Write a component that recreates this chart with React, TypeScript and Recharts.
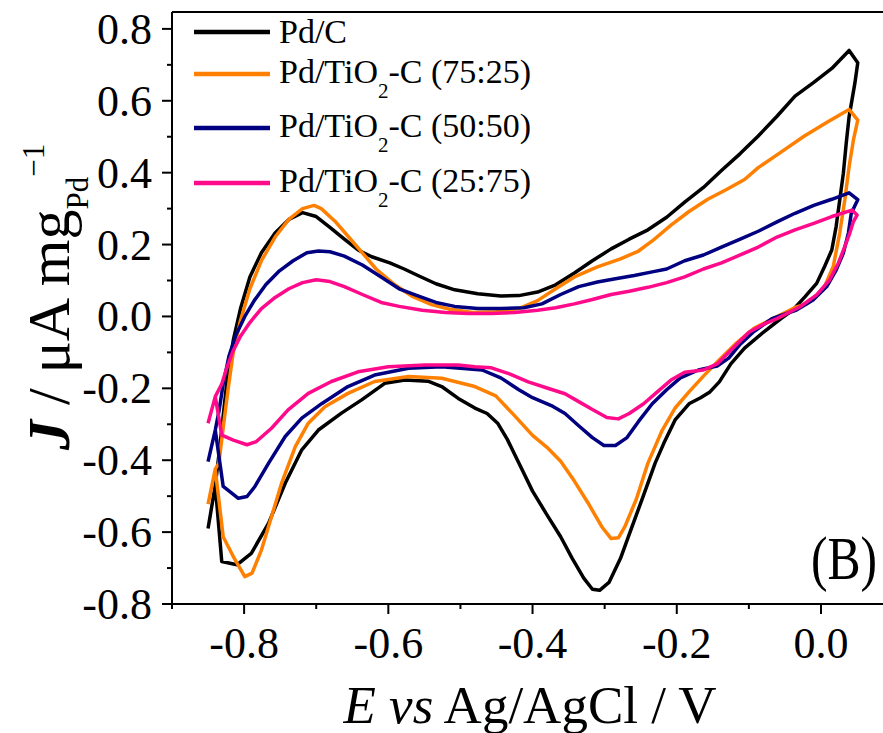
import React from "react";
import { LineChart, Line, XAxis, YAxis, Legend, ReferenceLine } from "recharts";

type Pt = [number, number];

// E (V vs Ag/AgCl), J (uA mg_Pd^-1); each loop: start, forward scan, reverse scan
const pdC: Pt[] = [
  [-0.85, -0.59], [-0.84, -0.47],
  [-0.835, -0.386], [-0.829, -0.276], [-0.823, -0.166], [-0.815, -0.066], [-0.805, 0.022], [-0.792, 0.11],
  [-0.776, 0.177], [-0.757, 0.232], [-0.738, 0.27], [-0.719, 0.289], [-0.7, 0.278], [-0.681, 0.248],
  [-0.661, 0.215], [-0.642, 0.185], [-0.623, 0.166], [-0.598, 0.149], [-0.578, 0.132], [-0.559, 0.114],
  [-0.534, 0.091], [-0.508, 0.074], [-0.476, 0.063], [-0.444, 0.057], [-0.419, 0.058], [-0.393, 0.068],
  [-0.368, 0.088], [-0.342, 0.121], [-0.317, 0.155], [-0.291, 0.188], [-0.266, 0.215], [-0.24, 0.241],
  [-0.214, 0.276], [-0.189, 0.318], [-0.163, 0.359], [-0.138, 0.406], [-0.112, 0.453], [-0.087, 0.502],
  [-0.061, 0.557], [-0.036, 0.613], [-0.01, 0.651], [0.015, 0.69], [0.039, 0.74], [0.051, 0.706],
  [0.047, 0.649], [0.039, 0.556], [0.035, 0.482], [0.031, 0.398], [0.026, 0.324], [0.021, 0.25],
  [0.015, 0.185], [0.005, 0.139], [-0.006, 0.092], [-0.022, 0.055], [-0.039, 0.018], [-0.055, -0.005],
  [-0.08, -0.044], [-0.106, -0.088], [-0.125, -0.132], [-0.141, -0.182], [-0.154, -0.21], [-0.167, -0.226],
  [-0.183, -0.243], [-0.202, -0.287], [-0.218, -0.353], [-0.23, -0.408], [-0.246, -0.497], [-0.262, -0.585],
  [-0.278, -0.673], [-0.294, -0.74], [-0.307, -0.762], [-0.317, -0.759], [-0.329, -0.728], [-0.345, -0.673],
  [-0.361, -0.613], [-0.38, -0.552], [-0.4, -0.486], [-0.419, -0.408], [-0.435, -0.342], [-0.448, -0.298],
  [-0.463, -0.27], [-0.48, -0.255], [-0.503, -0.228], [-0.526, -0.195], [-0.545, -0.18], [-0.577, -0.177],
  [-0.605, -0.186], [-0.637, -0.232], [-0.665, -0.269], [-0.697, -0.316], [-0.72, -0.371], [-0.743, -0.464],
  [-0.766, -0.575], [-0.79, -0.659], [-0.81, -0.691], [-0.831, -0.682], [-0.84, -0.47],
];

const pdTi7525: Pt[] = [
  [-0.85, -0.522], [-0.84, -0.425],
  [-0.835, -0.408], [-0.829, -0.309], [-0.822, -0.199], [-0.815, -0.099], [-0.805, -0.011], [-0.792, 0.077],
  [-0.776, 0.155], [-0.757, 0.221], [-0.738, 0.27], [-0.719, 0.3], [-0.703, 0.309], [-0.693, 0.3],
  [-0.674, 0.265], [-0.655, 0.221], [-0.636, 0.177], [-0.617, 0.132], [-0.591, 0.088], [-0.566, 0.055],
  [-0.54, 0.033], [-0.515, 0.02], [-0.483, 0.011], [-0.451, 0.013], [-0.419, 0.022], [-0.393, 0.044],
  [-0.368, 0.077], [-0.342, 0.11], [-0.31, 0.138], [-0.278, 0.16], [-0.253, 0.182], [-0.234, 0.21],
  [-0.208, 0.254], [-0.183, 0.292], [-0.157, 0.326], [-0.131, 0.353], [-0.106, 0.381], [-0.087, 0.414],
  [-0.055, 0.458], [-0.023, 0.502], [0.009, 0.541], [0.039, 0.576], [0.051, 0.546],
  [0.045, 0.491], [0.039, 0.417], [0.033, 0.324], [0.026, 0.232], [0.017, 0.139], [0.003, 0.074],
  [-0.02, 0.035], [-0.036, 0.025], [-0.061, 0.0], [-0.093, -0.033], [-0.119, -0.077], [-0.144, -0.127],
  [-0.163, -0.166], [-0.183, -0.21], [-0.202, -0.254], [-0.221, -0.32], [-0.24, -0.408], [-0.256, -0.508],
  [-0.272, -0.585], [-0.281, -0.616], [-0.291, -0.618], [-0.304, -0.585], [-0.323, -0.519], [-0.342, -0.458],
  [-0.361, -0.403], [-0.38, -0.364], [-0.4, -0.331], [-0.425, -0.276], [-0.451, -0.221], [-0.48, -0.195],
  [-0.526, -0.172], [-0.572, -0.167], [-0.619, -0.181], [-0.656, -0.214], [-0.688, -0.251], [-0.711, -0.297],
  [-0.729, -0.362], [-0.748, -0.464], [-0.762, -0.557], [-0.776, -0.65], [-0.789, -0.714], [-0.799, -0.724],
  [-0.815, -0.668], [-0.829, -0.613], [-0.84, -0.425],
];

const pdTi5050: Pt[] = [
  [-0.85, -0.404], [-0.84, -0.316],
  [-0.835, -0.265], [-0.829, -0.188], [-0.821, -0.11], [-0.811, -0.05], [-0.799, 0.0], [-0.786, 0.044],
  [-0.77, 0.088], [-0.751, 0.127], [-0.732, 0.155], [-0.713, 0.177], [-0.697, 0.182], [-0.681, 0.18],
  [-0.661, 0.168], [-0.636, 0.143], [-0.61, 0.11], [-0.585, 0.077], [-0.559, 0.057], [-0.534, 0.039],
  [-0.508, 0.028], [-0.476, 0.022], [-0.444, 0.022], [-0.412, 0.024], [-0.387, 0.035], [-0.361, 0.061],
  [-0.336, 0.083], [-0.31, 0.096], [-0.285, 0.105], [-0.259, 0.114], [-0.234, 0.124], [-0.214, 0.132],
  [-0.189, 0.155], [-0.163, 0.171], [-0.138, 0.193], [-0.112, 0.215], [-0.087, 0.237], [-0.061, 0.263],
  [-0.036, 0.287], [-0.01, 0.309], [0.015, 0.326], [0.039, 0.344], [0.051, 0.325],
  [0.042, 0.287], [0.038, 0.232], [0.031, 0.176], [0.021, 0.129], [0.008, 0.083], [-0.011, 0.046],
  [-0.034, 0.018], [-0.068, -0.006], [-0.093, -0.042], [-0.112, -0.077], [-0.128, -0.116], [-0.144, -0.138],
  [-0.17, -0.149], [-0.195, -0.171], [-0.214, -0.204], [-0.234, -0.243], [-0.253, -0.292], [-0.269, -0.337],
  [-0.285, -0.359], [-0.301, -0.359], [-0.317, -0.337], [-0.336, -0.304], [-0.355, -0.27], [-0.374, -0.248],
  [-0.4, -0.226], [-0.419, -0.204], [-0.444, -0.171], [-0.47, -0.149], [-0.526, -0.14], [-0.572, -0.144],
  [-0.619, -0.163], [-0.656, -0.195], [-0.692, -0.242], [-0.72, -0.283], [-0.743, -0.334], [-0.766, -0.408],
  [-0.785, -0.473], [-0.796, -0.501], [-0.808, -0.506], [-0.829, -0.473], [-0.84, -0.316],
];

const pdTi2575: Pt[] = [
  [-0.85, -0.297], [-0.84, -0.223],
  [-0.831, -0.188], [-0.824, -0.143], [-0.816, -0.099], [-0.805, -0.055], [-0.792, -0.017], [-0.776, 0.022],
  [-0.757, 0.053], [-0.738, 0.077], [-0.719, 0.094], [-0.7, 0.102], [-0.681, 0.097], [-0.661, 0.083],
  [-0.636, 0.061], [-0.61, 0.039], [-0.585, 0.028], [-0.553, 0.017], [-0.521, 0.011], [-0.489, 0.008],
  [-0.457, 0.008], [-0.425, 0.011], [-0.393, 0.017], [-0.368, 0.024], [-0.342, 0.035], [-0.317, 0.047],
  [-0.291, 0.061], [-0.266, 0.07], [-0.24, 0.081], [-0.214, 0.094], [-0.189, 0.11], [-0.163, 0.132],
  [-0.138, 0.149], [-0.112, 0.171], [-0.087, 0.193], [-0.061, 0.221], [-0.036, 0.241], [-0.01, 0.259],
  [0.015, 0.278], [0.043, 0.296], [0.05, 0.282],
  [0.045, 0.264], [0.04, 0.232], [0.033, 0.194], [0.024, 0.148], [0.012, 0.102], [-0.006, 0.06],
  [-0.029, 0.027], [-0.061, -0.006], [-0.08, -0.022], [-0.1, -0.044], [-0.122, -0.088], [-0.144, -0.132],
  [-0.163, -0.149], [-0.189, -0.155], [-0.208, -0.177], [-0.227, -0.21], [-0.246, -0.243], [-0.266, -0.27],
  [-0.281, -0.285], [-0.297, -0.281], [-0.317, -0.259], [-0.336, -0.237], [-0.355, -0.215], [-0.38, -0.199],
  [-0.406, -0.182], [-0.432, -0.16], [-0.457, -0.143], [-0.48, -0.14], [-0.503, -0.135], [-0.549, -0.135],
  [-0.6, -0.14], [-0.642, -0.154], [-0.679, -0.181], [-0.711, -0.214], [-0.739, -0.26], [-0.762, -0.311],
  [-0.783, -0.348], [-0.796, -0.357], [-0.815, -0.344], [-0.831, -0.33], [-0.84, -0.223],
];

const SERIES_NAMES = ["Pd/C", "Pd/TiO2-C (75:25)", "Pd/TiO2-C (50:50)", "Pd/TiO2-C (25:75)"];
const SERIES_COLORS = ["#000000", "#ff8000", "#000080", "#ff0a8a"];
const SERIES_DATA = [pdC, pdTi7525, pdTi5050, pdTi2575];

const X_TICKS = [-0.9, -0.8, -0.7, -0.6, -0.5, -0.4, -0.3, -0.2, -0.1, 0.0];
const Y_TICKS = [-0.8, -0.7, -0.6, -0.5, -0.4, -0.3, -0.2, -0.1, 0.0, 0.1, 0.2, 0.3, 0.4, 0.5, 0.6, 0.7, 0.8];
const X_DOMAIN: [number, number] = [-0.9, 0.086];
const Y_DOMAIN: [number, number] = [-0.8, 0.847];

const SERIF = '"Liberation Serif", "Times New Roman", serif';
const serif = { fontFamily: SERIF };
const W = 883;
const H = 733;
const PLOT_LEFT = 172;
const PLOT_BOTTOM = 604;
const LEGEND_ROW_Y = [32, 74, 128, 183];

const isMajor = (v: number) => Math.abs(Math.round(v * 10)) % 2 === 0;

const YTick = (props: any) => {
  const { y, payload } = props;
  const v: number = payload.value;
  const major = isMajor(v);
  return (
    <g>
      <line x1={PLOT_LEFT - (major ? 10 : 5)} x2={PLOT_LEFT} y1={y} y2={y} stroke="#000" strokeWidth={2} />
      {major && (
        <text x={PLOT_LEFT - 20} y={y + 15} textAnchor="end" fontSize={44} style={serif} fill="#000">
          {v.toFixed(1)}
        </text>
      )}
    </g>
  );
};

const XTick = (props: any) => {
  const { x, payload } = props;
  const v: number = payload.value;
  const major = isMajor(v);
  return (
    <g>
      <line x1={x} x2={x} y1={PLOT_BOTTOM} y2={PLOT_BOTTOM + (major ? 10 : 5)} stroke="#000" strokeWidth={2} />
      {major && (
        <text x={x} y={658} textAnchor="middle" fontSize={44} style={serif} fill="#000">
          {v.toFixed(1)}
        </text>
      )}
    </g>
  );
};

// axis title plus the "(B)" panel tag in the lower-right corner of the plot
const XTitle = () => (
  <g fill="#000">
    <text x={530} y={723} textAnchor="middle" fontSize={53} style={serif}>
      <tspan fontStyle="italic">E vs</tspan>
      <tspan> Ag/AgCl / V</tspan>
    </text>
    <text transform="translate(877, 579) scale(0.8, 1)" textAnchor="end" fontSize={62} style={serif}>
      (B)
    </text>
  </g>
);

const YTitle = () => (
  <text x={69} y={450} transform="rotate(-90, 69, 450)" style={serif} fontSize={60} fill="#000">
    <tspan fontStyle="italic" fontWeight="bold">J</tspan>
    <tspan> / μA mg</tspan>
    <tspan fontSize={31} dy={19}>Pd</tspan>
    <tspan fontSize={31} dy={-44}>−1</tspan>
  </text>
);

const legendLabel = (name: string) => {
  const i = name.indexOf("TiO2");
  if (i < 0) return name;
  return (
    <>
      {name.slice(0, i + 3)}
      <span style={{ fontSize: 21, position: "relative", top: 15 }}>2</span>
      {name.slice(i + 4)}
    </>
  );
};

const LegendBox = () => (
  <div style={{ position: "relative", width: W, height: 0, fontFamily: SERIF, color: "#000" }}>
    {SERIES_NAMES.map((name, i) => (
      <div
        key={name}
        style={{
          position: "absolute",
          left: 194,
          top: LEGEND_ROW_Y[i] - 20,
          height: 40,
          display: "flex",
          alignItems: "center",
          whiteSpace: "nowrap",
        }}
      >
        <svg width={76} height={8} style={{ display: "block" }}>
          <line x1={0} x2={76} y1={4} y2={4} stroke={SERIES_COLORS[i]} strokeWidth={4.5} />
        </svg>
        <span style={{ marginLeft: 9, fontSize: 34, lineHeight: "40px" }}>{legendLabel(name)}</span>
      </div>
    ))}
  </div>
);

export default function App() {
  return (
    <div style={{ position: "absolute", left: 0, top: 0, width: W, height: H, background: "#fff", fontFamily: SERIF }}>
      <LineChart width={W} height={H} margin={{ top: 12, right: 0, bottom: 69, left: 72 }} style={serif}>
        <XAxis
          type="number"
          dataKey="e"
          domain={X_DOMAIN}
          ticks={X_TICKS}
          allowDataOverflow
          height={60}
          tickLine={false}
          tick={<XTick />}
          axisLine={{ stroke: "#000", strokeWidth: 2 }}
          label={XTitle}
        />
        <YAxis
          type="number"
          domain={Y_DOMAIN}
          ticks={Y_TICKS}
          allowDataOverflow
          width={100}
          tickLine={false}
          tick={<YTick />}
          axisLine={{ stroke: "#000", strokeWidth: 2 }}
          label={YTitle}
        />
        <ReferenceLine y={Y_DOMAIN[1]} stroke="#000" strokeWidth={2} />
        <Legend
          layout="horizontal"
          verticalAlign="middle"
          align="center"
          content={() => <LegendBox />}
          wrapperStyle={{ left: 0, top: 0, width: W, height: 0 }}
        />
        {SERIES_DATA.map((pts, i) => (
          <Line
            key={SERIES_NAMES[i]}
            name={SERIES_NAMES[i]}
            data={pts.map(([e, j]) => ({ e, j }))}
            dataKey="j"
            type="linear"
            stroke={SERIES_COLORS[i]}
            strokeWidth={3.5}
            strokeLinejoin="round"
            dot={false}
            activeDot={false}
            isAnimationActive={false}
          />
        ))}
      </LineChart>
    </div>
  );
}
